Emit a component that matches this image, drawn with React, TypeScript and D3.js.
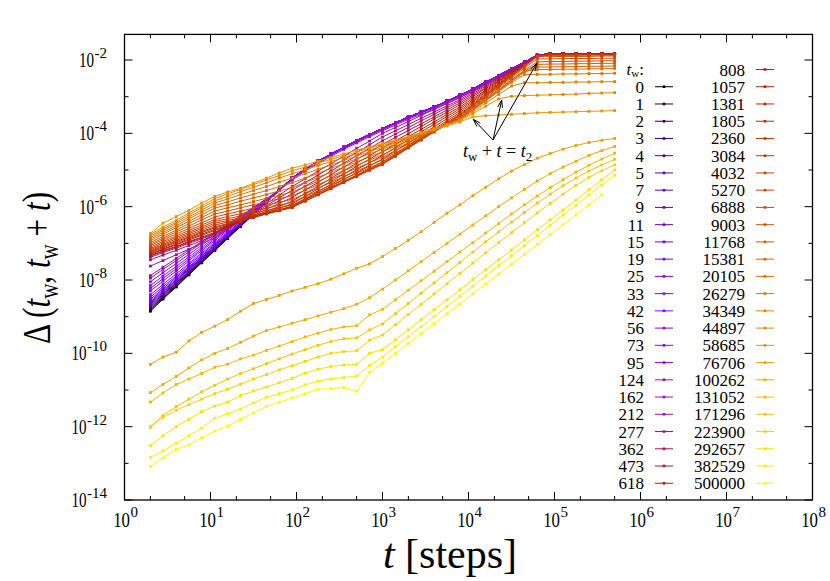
import React from 'react';
import * as d3 from 'd3';

// t grid (steps) at which every curve is sampled
const T_STEPS = [2, 2.8, 4, 5.6, 7.9, 11.2, 15.8, 22.4, 31.6, 44.7, 63.1, 89.1, 126, 178, 251, 355, 501, 708, 1000, 1413, 1995, 2818, 3981, 5623, 7943, 11220, 15849, 22387, 31623, 44668, 63096, 89125, 125893, 177828, 251189, 354813, 500000];

// waiting times t_w (legend order)
const TW = [0, 1, 2, 3, 4, 5, 7, 9, 11, 15, 19, 25, 33, 42, 56, 73, 95, 124, 162, 212, 277, 362, 473, 618, 808, 1057, 1381, 1805, 2360, 3084, 4032, 5270, 6888, 9003, 11768, 15381, 20105, 26279, 34349, 44897, 58685, 76706, 100262, 131052, 171296, 223900, 292657, 382529, 500000];

// log10 Δ: early part (t = 2 .. 63) of the young curves t_w = 0 .. 95
const YOUNG_HEADS = [
  [-8.85, -8.52, -8.19, -7.86, -7.53, -7.2, -6.87, -6.54, -6.21, -5.88, -5.55],
  [-8.82, -8.49, -8.17, -7.84, -7.51, -7.19, -6.86, -6.53, -6.2, -5.88, -5.55],
  [-8.79, -8.47, -8.14, -7.82, -7.49, -7.17, -6.85, -6.52, -6.2, -5.87, -5.55],
  [-8.76, -8.44, -8.12, -7.8, -7.48, -7.16, -6.83, -6.51, -6.19, -5.87, -5.55],
  [-8.73, -8.41, -8.09, -7.78, -7.46, -7.14, -6.82, -6.5, -6.19, -5.87, -5.55],
  [-8.7, -8.39, -8.07, -7.76, -7.44, -7.13, -6.81, -6.5, -6.18, -5.87, -5.55],
  [-8.67, -8.36, -8.05, -7.73, -7.42, -7.11, -6.8, -6.49, -6.17, -5.86, -5.55],
  [-8.64, -8.33, -8.02, -7.71, -7.4, -7.1, -6.79, -6.48, -6.17, -5.86, -5.55],
  [-8.61, -8.3, -8.0, -7.69, -7.39, -7.08, -6.77, -6.47, -6.16, -5.86, -5.55],
  [-8.57, -8.27, -7.97, -7.66, -7.36, -7.06, -6.76, -6.46, -6.15, -5.85, -5.55],
  [-8.53, -8.23, -7.93, -7.64, -7.34, -7.04, -6.74, -6.44, -6.15, -5.85, -5.55],
  [-8.47, -8.18, -7.89, -7.59, -7.3, -7.01, -6.72, -6.43, -6.13, -5.84, -5.55],
  [-8.4, -8.12, -7.83, -7.55, -7.26, -6.98, -6.69, -6.41, -6.12, -5.84, -5.55],
  [-8.3, -8.03, -7.75, -7.48, -7.2, -6.93, -6.65, -6.38, -6.1, -5.83, -5.55],
  [-8.23, -7.96, -7.69, -7.43, -7.16, -6.89, -6.62, -6.35, -6.09, -5.82, -5.55],
  [-8.15, -7.89, -7.63, -7.37, -7.11, -6.85, -6.59, -6.33, -6.07, -5.81, -5.55],
  [-8.05, -7.8, -7.55, -7.3, -7.05, -6.8, -6.55, -6.3, -6.05, -5.8, -5.55],
];

// log10 Δ: common late part (t = 89 .. 5e5) shared by t_w = 0 .. 95
const YOUNG_TAIL = [-5.22, -4.97, -4.76, -4.57, -4.38, -4.2, -4.03, -3.87, -3.71, -3.56, -3.42, -3.28, -3.12, -2.96, -2.79, -2.6, -2.42, -2.24, -2.06, -1.87, -1.83, -1.83, -1.83, -1.83, -1.83, -1.83];

// log10 Δ: t_w = 124 .. 58685 (full rows)
const MIDDLE_ROWS = [
  [-7.95, -7.71, -7.47, -7.23, -6.99, -6.75, -6.51, -6.27, -6.03, -5.79, -5.55, -5.25, -5.0, -4.79, -4.6, -4.41, -4.23, -4.06, -3.9, -3.74, -3.59, -3.45, -3.31, -3.15, -2.99, -2.82, -2.63, -2.45, -2.27, -2.09, -1.88, -1.84, -1.84, -1.84, -1.84, -1.84, -1.84],
  [-7.88, -7.65, -7.41, -7.18, -6.95, -6.72, -6.48, -6.25, -6.02, -5.78, -5.55, -5.28, -5.03, -4.82, -4.63, -4.44, -4.26, -4.09, -3.93, -3.77, -3.62, -3.48, -3.34, -3.18, -3.02, -2.85, -2.66, -2.48, -2.3, -2.12, -1.89, -1.84, -1.84, -1.84, -1.84, -1.84, -1.84],
  [-7.62, -7.47, -7.31, -7.16, -7.0, -6.85, -6.62, -6.38, -6.15, -5.92, -5.68, -5.45, -5.24, -5.03, -4.83, -4.62, -4.41, -4.21, -4.0, -3.84, -3.68, -3.51, -3.35, -3.19, -3.03, -2.84, -2.65, -2.46, -2.27, -2.08, -1.89, -1.84, -1.84, -1.84, -1.84, -1.84, -1.84],
  [-7.45, -7.32, -7.19, -7.06, -6.93, -6.8, -6.59, -6.38, -6.18, -5.97, -5.76, -5.55, -5.34, -5.14, -4.93, -4.72, -4.52, -4.31, -4.1, -3.93, -3.76, -3.59, -3.42, -3.25, -3.08, -2.88, -2.68, -2.49, -2.29, -2.09, -1.89, -1.84, -1.84, -1.84, -1.84, -1.84, -1.84],
  [-7.38, -7.25, -7.13, -7.0, -6.88, -6.75, -6.57, -6.38, -6.2, -6.02, -5.83, -5.65, -5.44, -5.24, -5.03, -4.82, -4.61, -4.41, -4.2, -4.02, -3.84, -3.66, -3.48, -3.3, -3.12, -2.92, -2.71, -2.51, -2.31, -2.1, -1.9, -1.84, -1.84, -1.84, -1.84, -1.84, -1.84],
  [-7.35, -7.22, -7.1, -6.97, -6.85, -6.72, -6.56, -6.4, -6.24, -6.07, -5.91, -5.75, -5.54, -5.34, -5.13, -4.92, -4.71, -4.51, -4.3, -4.11, -3.92, -3.74, -3.55, -3.36, -3.17, -2.96, -2.75, -2.53, -2.32, -2.11, -1.9, -1.84, -1.84, -1.84, -1.84, -1.84, -1.84],
  [-7.33, -7.2, -7.08, -6.95, -6.83, -6.7, -6.56, -6.42, -6.27, -6.13, -5.99, -5.85, -5.64, -5.44, -5.23, -5.02, -4.81, -4.61, -4.4, -4.2, -4.01, -3.81, -3.61, -3.42, -3.22, -3.0, -2.78, -2.56, -2.34, -2.12, -1.9, -1.84, -1.84, -1.84, -1.84, -1.84, -1.84],
  [-7.3, -7.17, -7.04, -6.91, -6.78, -6.65, -6.53, -6.41, -6.28, -6.16, -6.04, -5.92, -5.72, -5.51, -5.31, -5.11, -4.9, -4.7, -4.5, -4.3, -4.09, -3.89, -3.69, -3.48, -3.28, -3.05, -2.82, -2.58, -2.35, -2.12, -1.89, -1.84, -1.84, -1.84, -1.84, -1.84, -1.84],
  [-7.28, -7.15, -7.02, -6.88, -6.75, -6.62, -6.51, -6.41, -6.3, -6.19, -6.09, -5.98, -5.78, -5.59, -5.39, -5.19, -4.99, -4.8, -4.6, -4.39, -4.18, -3.96, -3.75, -3.54, -3.33, -3.09, -2.85, -2.61, -2.37, -2.13, -1.89, -1.84, -1.84, -1.84, -1.84, -1.84, -1.84],
  [-7.25, -7.12, -6.98, -6.85, -6.71, -6.58, -6.48, -6.39, -6.29, -6.19, -6.1, -6.0, -5.81, -5.63, -5.44, -5.26, -5.07, -4.89, -4.7, -4.48, -4.26, -4.04, -3.82, -3.6, -3.38, -3.13, -2.88, -2.64, -2.39, -2.14, -1.89, -1.84, -1.84, -1.84, -1.84, -1.84, -1.84],
  [-7.22, -7.09, -6.95, -6.82, -6.68, -6.55, -6.46, -6.37, -6.29, -6.2, -6.11, -6.02, -5.84, -5.67, -5.49, -5.31, -5.14, -4.96, -4.78, -4.56, -4.33, -4.11, -3.88, -3.66, -3.43, -3.17, -2.92, -2.66, -2.41, -2.15, -1.9, -1.85, -1.85, -1.85, -1.85, -1.85, -1.85],
  [-7.2, -7.06, -6.92, -6.78, -6.64, -6.5, -6.42, -6.34, -6.26, -6.18, -6.1, -6.02, -5.85, -5.68, -5.51, -5.34, -5.16, -4.99, -4.82, -4.6, -4.37, -4.15, -3.92, -3.7, -3.47, -3.21, -2.94, -2.68, -2.41, -2.15, -1.89, -1.85, -1.85, -1.85, -1.85, -1.85, -1.85],
  [-7.17, -7.03, -6.88, -6.74, -6.59, -6.45, -6.38, -6.3, -6.23, -6.15, -6.08, -6.0, -5.84, -5.67, -5.51, -5.34, -5.18, -5.01, -4.85, -4.63, -4.4, -4.18, -3.95, -3.73, -3.5, -3.23, -2.97, -2.7, -2.43, -2.17, -1.9, -1.86, -1.86, -1.86, -1.86, -1.86, -1.86],
  [-7.14, -6.99, -6.84, -6.7, -6.55, -6.4, -6.33, -6.25, -6.18, -6.1, -6.03, -5.95, -5.79, -5.63, -5.47, -5.31, -5.15, -4.99, -4.83, -4.61, -4.39, -4.18, -3.96, -3.74, -3.52, -3.25, -2.98, -2.7, -2.43, -2.16, -1.89, -1.87, -1.87, -1.87, -1.86, -1.86, -1.86],
  [-7.1, -6.95, -6.8, -6.65, -6.5, -6.35, -6.27, -6.19, -6.12, -6.04, -5.96, -5.88, -5.72, -5.57, -5.41, -5.25, -5.09, -4.94, -4.78, -4.58, -4.37, -4.17, -3.96, -3.76, -3.55, -3.28, -3.0, -2.73, -2.46, -2.18, -1.91, -1.91, -1.9, -1.9, -1.9, -1.89, -1.89],
  [-7.06, -6.9, -6.75, -6.59, -6.44, -6.28, -6.2, -6.12, -6.04, -5.96, -5.88, -5.8, -5.65, -5.49, -5.34, -5.18, -5.03, -4.87, -4.72, -4.53, -4.34, -4.14, -3.95, -3.76, -3.57, -3.3, -3.03, -2.76, -2.49, -2.22, -1.97, -1.97, -1.96, -1.96, -1.96, -1.95, -1.95],
  [-7.02, -6.86, -6.69, -6.53, -6.36, -6.2, -6.12, -6.03, -5.95, -5.87, -5.78, -5.7, -5.55, -5.4, -5.25, -5.1, -4.95, -4.8, -4.65, -4.47, -4.29, -4.12, -3.94, -3.76, -3.58, -3.32, -3.06, -2.8, -2.54, -2.28, -2.05, -2.04, -2.04, -2.03, -2.03, -2.02, -2.02],
  [-6.98, -6.81, -6.64, -6.46, -6.29, -6.12, -6.03, -5.95, -5.86, -5.77, -5.69, -5.6, -5.45, -5.31, -5.16, -5.02, -4.87, -4.73, -4.58, -4.42, -4.25, -4.09, -3.93, -3.76, -3.6, -3.34, -3.08, -2.83, -2.57, -2.31, -2.12, -2.11, -2.11, -2.1, -2.1, -2.09, -2.09],
  [-6.93, -6.75, -6.57, -6.4, -6.22, -6.04, -5.95, -5.85, -5.76, -5.67, -5.57, -5.48, -5.34, -5.2, -5.06, -4.92, -4.78, -4.64, -4.5, -4.35, -4.2, -4.06, -3.91, -3.76, -3.61, -3.35, -3.1, -2.84, -2.58, -2.33, -2.19, -2.19, -2.18, -2.18, -2.17, -2.17, -2.16],
  [-6.88, -6.7, -6.52, -6.33, -6.15, -5.97, -5.87, -5.76, -5.66, -5.56, -5.45, -5.35, -5.22, -5.09, -4.96, -4.83, -4.69, -4.56, -4.43, -4.3, -4.16, -4.03, -3.89, -3.76, -3.62, -3.36, -3.1, -2.83, -2.57, -2.31, -2.26, -2.26, -2.25, -2.25, -2.24, -2.24, -2.23],
  [-6.84, -6.65, -6.46, -6.28, -6.09, -5.9, -5.79, -5.67, -5.56, -5.45, -5.33, -5.22, -5.1, -4.98, -4.86, -4.74, -4.62, -4.5, -4.38, -4.26, -4.13, -4.01, -3.88, -3.76, -3.63, -3.37, -3.12, -2.86, -2.61, -2.4, -2.39, -2.39, -2.38, -2.38, -2.37, -2.37, -2.36],
  [-6.8, -6.61, -6.42, -6.22, -6.03, -5.84, -5.72, -5.59, -5.47, -5.35, -5.22, -5.1, -4.99, -4.88, -4.77, -4.66, -4.56, -4.45, -4.34, -4.22, -4.11, -3.99, -3.87, -3.76, -3.64, -3.41, -3.17, -2.94, -2.71, -2.62, -2.62, -2.61, -2.61, -2.6, -2.6, -2.59, -2.59],
  [-6.76, -6.56, -6.37, -6.17, -5.98, -5.78, -5.65, -5.53, -5.4, -5.27, -5.15, -5.02, -4.92, -4.81, -4.71, -4.61, -4.51, -4.4, -4.3, -4.19, -4.09, -3.98, -3.87, -3.77, -3.66, -3.46, -3.26, -3.06, -2.99, -2.97, -2.96, -2.95, -2.94, -2.93, -2.91, -2.9, -2.89],
  [-6.73, -6.45, -6.27, -6.1, -5.9, -5.72, -5.6, -5.5, -5.36, -5.22, -5.08, -4.95, -4.86, -4.76, -4.66, -4.56, -4.46, -4.37, -4.28, -4.19, -4.1, -4.0, -3.9, -3.8, -3.69, -3.55, -3.52, -3.5, -3.48, -3.46, -3.44, -3.43, -3.42, -3.41, -3.4, -3.39, -3.38],
];

// log10 Δ: old systems t_w = 76706 .. 500000
const OLD_ROWS = [
  [-10.3, -10.1, -9.97, -9.66, -9.43, -9.26, -9.08, -8.85, -8.64, -8.53, -8.42, -8.3, -8.2, -8.1, -7.98, -7.83, -7.68, -7.56, -7.36, -7.14, -6.92, -6.68, -6.43, -6.18, -5.95, -5.7, -5.47, -5.24, -5.03, -4.85, -4.68, -4.55, -4.43, -4.33, -4.25, -4.19, -4.14],
  [-11.07, -10.85, -10.63, -10.4, -10.18, -10.0, -9.87, -9.7, -9.53, -9.38, -9.28, -9.18, -9.08, -8.98, -8.88, -8.78, -8.66, -8.48, -8.25, -8.0, -7.75, -7.5, -7.25, -7.0, -6.75, -6.5, -6.25, -6.0, -5.76, -5.53, -5.3, -5.1, -4.92, -4.76, -4.6, -4.47, -4.36],
  [-11.33, -11.08, -10.85, -10.7, -10.55, -10.38, -10.3, -10.15, -10.05, -9.92, -9.8, -9.68, -9.55, -9.45, -9.35, -9.28, -9.25, -8.95, -8.8, -8.54, -8.28, -8.02, -7.76, -7.5, -7.24, -6.98, -6.72, -6.46, -6.2, -5.95, -5.71, -5.48, -5.26, -5.06, -4.87, -4.7, -4.54],
  [-12.0, -11.7, -11.45, -11.25, -11.05, -10.87, -10.7, -10.55, -10.42, -10.28, -10.15, -10.02, -9.9, -9.78, -9.68, -9.6, -9.58, -9.36, -9.2, -8.92, -8.64, -8.36, -8.08, -7.8, -7.52, -7.24, -6.96, -6.69, -6.42, -6.16, -5.9, -5.66, -5.43, -5.22, -5.03, -4.86, -4.71],
  [-12.02, -11.75, -11.55, -11.4, -11.25, -11.1, -10.98, -10.84, -10.7, -10.58, -10.45, -10.34, -10.22, -10.1, -10.0, -9.95, -9.93, -9.64, -9.5, -9.22, -8.94, -8.66, -8.38, -8.1, -7.82, -7.54, -7.26, -6.98, -6.71, -6.44, -6.17, -5.91, -5.66, -5.42, -5.2, -5.02, -4.86],
  [-12.52, -12.25, -12.0, -11.8, -11.59, -11.44, -11.33, -11.15, -11.03, -10.92, -10.8, -10.68, -10.54, -10.43, -10.36, -10.32, -10.3, -10.0, -9.9, -9.63, -9.36, -9.08, -8.81, -8.54, -8.27, -7.99, -7.72, -7.45, -7.18, -6.91, -6.63, -6.36, -6.09, -5.82, -5.54, -5.27, -5.0],
  [-12.84, -12.66, -12.45, -12.25, -12.04, -11.77, -11.65, -11.52, -11.35, -11.2, -11.1, -11.0, -10.86, -10.76, -10.7, -10.66, -10.62, -10.33, -10.1, -9.82, -9.55, -9.27, -9.0, -8.72, -8.44, -8.17, -7.89, -7.61, -7.34, -7.06, -6.79, -6.51, -6.23, -5.96, -5.68, -5.41, -5.14],
  [-13.09, -12.85, -12.62, -12.5, -12.3, -12.12, -11.98, -11.8, -11.62, -11.45, -11.33, -11.22, -11.1, -10.98, -10.96, -10.93, -11.03, -10.52, -10.27, -10.0, -9.73, -9.46, -9.19, -8.92, -8.65, -8.38, -8.11, -7.84, -7.57, -7.3, -7.03, -6.76, -6.49, -6.22, -5.95, -5.68, null],
];

const LOG10_DELTA: (number | null)[][] = [
  ...YOUNG_HEADS.map((h) => [...h, ...YOUNG_TAIL]),
  ...MIDDLE_ROWS,
  ...OLD_ROWS,
];

const X_TICK_EXP = [0, 1, 2, 3, 4, 5, 6, 7, 8];
const Y_TICK_EXP = [-14, -12, -10, -8, -6, -4, -2];
const Y_MINOR_EXP = [-13, -11, -9, -7, -5, -3];
const X_MINOR_MULT = [2, 5];

const W = 830;
const H = 581;
const PL = 124.5, PR = 812.5, PT = 34.4, PB = 500;
const FONT = '"Liberation Serif", "Times New Roman", Times, serif';

const xSc = d3.scaleLog().domain([1, 1e8]).range([PL, PR]);
const ySc = d3.scaleLog().domain([1e-14, 0.05]).range([PB, PT]);

function palette(f: number): string {
  const r = Math.sqrt(f);
  const g = f * f * f;
  const b = Math.max(0, Math.sin(2 * Math.PI * f));
  return d3.rgb(Math.round(r * 255), Math.round(g * 255), Math.round(b * 255)).formatHex();
}

function Arrow({ x1, y1, x2, y2 }: { x1: number; y1: number; x2: number; y2: number }) {
  const ang = Math.atan2(y2 - y1, x2 - x1);
  const L = 8, a = 0.3;
  const p1 = [x2 - L * Math.cos(ang - a), y2 - L * Math.sin(ang - a)];
  const p2 = [x2 - L * Math.cos(ang + a), y2 - L * Math.sin(ang + a)];
  return (
    <g stroke="#000" strokeWidth={1} fill="none">
      <line x1={x1} y1={y1} x2={x2} y2={y2} />
      <polyline points={`${p1[0]},${p1[1]} ${x2},${y2} ${p2[0]},${p2[1]}`} />
    </g>
  );
}

function expWidth(e: number, fs: number): number {
  const s = String(e);
  let w = 0;
  for (const ch of s) w += ch === '-' ? 0.333 : 0.5;
  return w * fs;
}

export default function App() {
  const line = d3
    .line<[number, number]>()
    .x((d) => xSc(d[0]))
    .y((d) => ySc(Math.pow(10, d[1])));

  const series = TW.map((tw, i) => {
    const row = LOG10_DELTA[i];
    const pts = T_STEPS.map((t, j) => [t, row[j]] as [number, number | null])
      .filter((p) => p[1] !== null && p[1] !== undefined) as [number, number][];
    return { tw, color: palette(i / (TW.length - 1)), pts };
  });

  const xMinor: number[] = [];
  for (let e = 0; e < 8; e++) for (const m of X_MINOR_MULT) xMinor.push(m * Math.pow(10, e));

  const rowY0 = 69.5, rowDy = 17.24;
  const legendItems = series.map((s, i) => {
    const col = i < 24 ? 0 : 1;
    const row = i < 24 ? i + 1 : i - 24;
    return { ...s, col, row };
  });

  const EXP_FS = 15;

  return (
    <svg width={W} height={H} style={{ position: 'absolute', left: 0, top: 0, background: '#fff' }} fontFamily={FONT}>
      <rect x={0} y={0} width={W} height={H} fill="#fff" />
      <defs>
        <clipPath id="plotclip">
          <rect x={PL} y={PT} width={PR - PL} height={PB - PT} />
        </clipPath>
      </defs>

      {/* data */}
      <g clipPath="url(#plotclip)">
        {series.map((s, i) => (
          <g key={i}>
            <path d={line(s.pts) || ''} fill="none" stroke={s.color} strokeWidth={1} />
            {s.pts.map((p, j) => (
              <rect key={j} x={xSc(p[0]) - 1.4} y={ySc(Math.pow(10, p[1])) - 1.4} width={2.8} height={2.8} fill={s.color} />
            ))}
          </g>
        ))}
      </g>

      {/* frame */}
      <rect x={PL} y={PT} width={PR - PL} height={PB - PT} fill="none" stroke="#000" strokeWidth={1.3} />

      {/* ticks */}
      <g stroke="#000" strokeWidth={1}>
        {X_TICK_EXP.map((e) => {
          const X = xSc(Math.pow(10, e));
          return (
            <g key={e}>
              <line x1={X} x2={X} y1={PB} y2={PB - 8} />
              <line x1={X} x2={X} y1={PT} y2={PT + 8} />
            </g>
          );
        })}
        {xMinor.map((v, k) => {
          const X = xSc(v);
          return (
            <g key={k}>
              <line x1={X} x2={X} y1={PB} y2={PB - 4} />
              <line x1={X} x2={X} y1={PT} y2={PT + 4} />
            </g>
          );
        })}
        {Y_TICK_EXP.map((e) => {
          const Y = ySc(Math.pow(10, e));
          return (
            <g key={e}>
              <line x1={PL} x2={PL + 8} y1={Y} y2={Y} />
              <line x1={PR} x2={PR - 8} y1={Y} y2={Y} />
            </g>
          );
        })}
        {Y_MINOR_EXP.map((e) => {
          const Y = ySc(Math.pow(10, e));
          return (
            <g key={e}>
              <line x1={PL} x2={PL + 4} y1={Y} y2={Y} />
              <line x1={PR} x2={PR - 4} y1={Y} y2={Y} />
            </g>
          );
        })}
      </g>

      {/* x tick labels */}
      <g fill="#000">
        {X_TICK_EXP.map((e) => {
          const X = xSc(Math.pow(10, e));
          return (
            <g key={e}>
              <g transform={`translate(${X + 5.5},527) scale(0.8,1)`}>
                <text textAnchor="end" fontSize={21}>10</text>
              </g>
              <text x={X + 6} y={517} fontSize={EXP_FS}>{e}</text>
            </g>
          );
        })}
        {Y_TICK_EXP.map((e) => {
          const Y = ySc(Math.pow(10, e));
          const ew = expWidth(e, EXP_FS);
          return (
            <g key={e}>
              <g transform={`translate(${107 - ew - 0.5},${Y + 7}) scale(0.72,1)`}>
                <text textAnchor="end" fontSize={21}>10</text>
              </g>
              <text x={107} y={Y - 2} fontSize={EXP_FS} textAnchor="end">{e}</text>
            </g>
          );
        })}
      </g>

      {/* axis labels */}
      <text x={450} y={568} textAnchor="middle" fontSize={42}>
        <tspan fontStyle="italic">t</tspan> [steps]
      </text>
      <g transform="translate(50,268) rotate(-90) scale(0.78,1)">
        <text textAnchor="middle" fontSize={40}>
          Δ (<tspan fontStyle="italic">t</tspan>
          <tspan dy={8} fontSize={27}>w</tspan>
          <tspan dy={-8}>, </tspan>
          <tspan fontStyle="italic">t</tspan>
          <tspan dy={8} fontSize={27}>w</tspan>
          <tspan dy={-8}> + </tspan>
          <tspan fontStyle="italic">t</tspan>)
        </text>
      </g>

      {/* annotation */}
      <Arrow x1={493} y1={140} x2={473.3} y2={119.3} />
      <Arrow x1={493} y1={140} x2={501.7} y2={100} />
      <Arrow x1={493} y1={140} x2={536.7} y2={63.3} />
      <text x={463} y={157} fontSize={18}>
        <tspan fontStyle="italic">t</tspan>
        <tspan dy={4} fontSize={13}>w</tspan>
        <tspan dy={-4}> + </tspan>
        <tspan fontStyle="italic">t</tspan> = <tspan fontStyle="italic">t</tspan>
        <tspan dy={4} fontSize={13}>2</tspan>
      </text>

      {/* legend */}
      <text x={644} y={rowY0 + 5} textAnchor="end" fontSize={17}>
        <tspan fontStyle="italic">t</tspan>
        <tspan dy={2.5} fontSize={11}>w</tspan>
        <tspan dy={-2.5}>:</tspan>
      </text>
      {legendItems.map((it, i) => {
        const tx = it.col === 0 ? 644 : 745;
        const lx1 = it.col === 0 ? 655 : 756;
        const lx2 = lx1 + 18;
        const Y = rowY0 + it.row * rowDy;
        return (
          <g key={i}>
            <text x={tx} y={Y + 6} textAnchor="end" fontSize={17}>
              {it.tw}
            </text>
            <line x1={lx1} x2={lx2} y1={Y} y2={Y} stroke={it.color} strokeWidth={1} />
            <rect x={(lx1 + lx2) / 2 - 1.3} y={Y - 1.3} width={2.6} height={2.6} fill={it.color} />
          </g>
        );
      })}
    </svg>
  );
}
